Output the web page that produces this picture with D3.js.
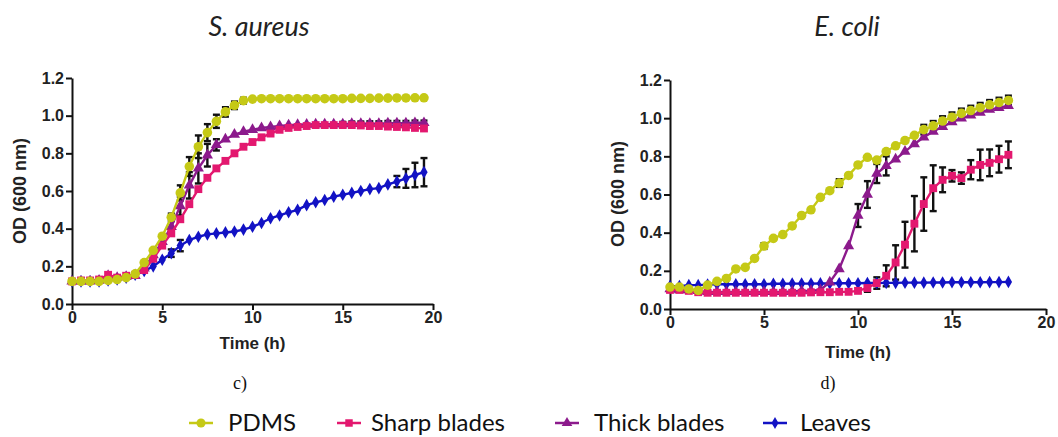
<!DOCTYPE html>
<html><head><meta charset="utf-8">
<script src="https://cdn.jsdelivr.net/npm/d3@7"></script>
<style>body{margin:0;background:#fff}</style>
</head><body><svg id="c" width="1058" height="437"></svg>
<script>
// ---------- DATA ----------
const saTime = [0,0.5,1,1.5,2,2.5,3,3.5,4,4.5,5,5.5,6,6.5,7,7.5,8,8.5,9,9.5,10,10.5,11,11.5,12,12.5,13,13.5,14,14.5,15,15.5,16,16.5,17,17.5,18,18.5,19,19.5];
const saPDMS = [0.12,0.12,0.12,0.12,0.125,0.13,0.14,0.16,0.22,0.285,0.36,0.46,0.59,0.73,0.835,0.91,0.97,1.02,1.055,1.08,1.088,1.09,1.09,1.09,1.09,1.09,1.09,1.09,1.09,1.09,1.09,1.092,1.092,1.092,1.093,1.093,1.094,1.094,1.095,1.095];
const saPDMSErr = [0,0,0,0,0,0,0,0,0,0,0,0.02,0.04,0.05,0.06,0.045,0.035,0.025,0.02,0.015,0,0,0,0,0,0,0,0,0,0,0,0,0,0,0,0,0,0,0,0];
const saSharp = [0.12,0.125,0.125,0.13,0.155,0.14,0.15,0.155,0.18,0.24,0.31,0.375,0.45,0.53,0.61,0.67,0.72,0.76,0.80,0.835,0.86,0.885,0.905,0.925,0.935,0.94,0.945,0.95,0.95,0.95,0.95,0.95,0.948,0.945,0.945,0.942,0.94,0.938,0.935,0.932];
const saSharpErr = [0,0,0,0,0,0,0,0,0,0,0,0,0,0,0,0,0,0,0,0,0,0,0,0,0,0,0,0,0,0,0,0,0,0,0,0,0,0,0,0];
const saThick = [0.12,0.12,0.12,0.125,0.15,0.14,0.145,0.15,0.19,0.26,0.33,0.41,0.52,0.63,0.72,0.79,0.845,0.875,0.90,0.915,0.925,0.935,0.94,0.945,0.95,0.952,0.953,0.955,0.955,0.955,0.955,0.957,0.957,0.958,0.958,0.96,0.96,0.96,0.962,0.962];
const saThickErr = [0,0,0,0,0,0,0,0,0,0,0,0,0.05,0.07,0.08,0.06,0.03,0,0,0,0,0,0,0,0,0,0,0,0,0,0.012,0.012,0.012,0.012,0.012,0.012,0.012,0.012,0.012,0.012];
const saLeaves = [0.12,0.12,0.12,0.12,0.125,0.13,0.14,0.155,0.175,0.20,0.235,0.27,0.31,0.34,0.357,0.37,0.375,0.38,0.385,0.395,0.41,0.43,0.455,0.47,0.487,0.50,0.525,0.54,0.552,0.57,0.58,0.59,0.60,0.61,0.615,0.635,0.65,0.667,0.685,0.70];
const saLeavesErr = [0,0,0,0,0,0,0,0,0,0,0,0.02,0.03,0,0,0,0,0,0,0,0,0,0,0,0,0,0,0,0,0,0,0,0,0,0,0,0.03,0.05,0.065,0.075];

const ecTime = [0,0.5,1,1.5,2,2.5,3,3.5,4,4.5,5,5.5,6,6.5,7,7.5,8,8.5,9,9.5,10,10.5,11,11.5,12,12.5,13,13.5,14,14.5,15,15.5,16,16.5,17,17.5,18];
const ecPDMS = [0.115,0.115,0.105,0.097,0.125,0.145,0.16,0.21,0.218,0.265,0.33,0.37,0.39,0.435,0.49,0.52,0.585,0.62,0.66,0.70,0.755,0.795,0.78,0.825,0.855,0.883,0.91,0.94,0.96,0.985,1.005,1.025,1.04,1.055,1.07,1.082,1.093];
const ecPDMSErr = [0,0,0,0,0,0,0,0,0,0,0.015,0,0,0,0,0,0,0,0.02,0,0,0,0,0,0,0,0,0.025,0.025,0.025,0.025,0.025,0.025,0.025,0.025,0.025,0.025];
const ecSharp = [0.1,0.1,0.095,0.088,0.085,0.085,0.085,0.085,0.085,0.085,0.085,0.085,0.085,0.085,0.085,0.087,0.088,0.088,0.09,0.09,0.095,0.11,0.136,0.174,0.244,0.337,0.447,0.55,0.633,0.677,0.698,0.686,0.73,0.755,0.766,0.785,0.808];
const ecSharpErr = [0,0,0,0,0,0,0,0,0,0,0,0,0,0,0,0,0,0,0,0,0,0.02,0.03,0.055,0.09,0.12,0.145,0.14,0.12,0.065,0.03,0.03,0.05,0.08,0.07,0.07,0.07];
const ecThick = [0.105,0.1,0.1,0.095,0.09,0.09,0.09,0.09,0.09,0.09,0.09,0.09,0.09,0.092,0.094,0.096,0.1,0.14,0.21,0.33,0.49,0.60,0.71,0.75,0.785,0.825,0.865,0.90,0.93,0.955,0.98,1.0,1.015,1.03,1.045,1.055,1.065];
const ecThickErr = [0,0,0,0,0,0,0,0,0,0,0,0,0,0,0,0,0,0,0,0,0.06,0.07,0.05,0.05,0,0,0,0,0,0,0,0,0,0,0,0,0];
const ecLeaves = [0.12,0.12,0.125,0.125,0.128,0.13,0.13,0.13,0.13,0.13,0.13,0.132,0.132,0.133,0.133,0.133,0.134,0.134,0.135,0.135,0.135,0.136,0.136,0.137,0.137,0.138,0.138,0.138,0.139,0.139,0.14,0.14,0.14,0.14,0.141,0.141,0.142];
const ecLeavesErr = [0,0,0,0,0,0,0,0,0,0,0,0,0,0,0,0,0,0,0,0,0,0,0,0,0,0,0,0,0,0,0,0,0,0,0,0,0];

const seriesNames = ["PDMS","Sharp blades","Thick blades","Leaves"];
const seriesColors = ["#c5c916","#e3186f","#8c1a8c","#1212c4"];
const seriesSymbols = [d3.symbolCircle, d3.symbolSquare, d3.symbolTriangle, d3.symbolDiamond];
const seriesSizes = [72, 62, 54, 46];
const yTicks = [0,0.2,0.4,0.6,0.8,1.0,1.2];
const xTicks = [0,5,10,15,20];
const titles = ["S. aureus","E. coli"];
const panelLabels = ["c)","d)"];

// ---------- DRAW ----------
const svg = d3.select('#c');
svg.append('rect').attr('width',1058).attr('height',437).attr('fill','#fff');
const SANS = 'Liberation Sans, Arial, sans-serif';

function panel(cfg){
  const x = d3.scaleLinear().domain([0,20]).range([cfg.x0,cfg.x1]);
  const y = d3.scaleLinear().domain([0,1.2]).range([cfg.y0,cfg.y1]);
  const g = svg.append('g');
  const ax = g.append('g').attr('transform',`translate(0,${cfg.y0})`)
    .call(d3.axisBottom(x).tickValues(xTicks).tickSize(6).tickSizeOuter(0).tickPadding(2));
  const ay = g.append('g').attr('transform',`translate(${cfg.x0},0)`)
    .call(d3.axisLeft(y).tickValues(yTicks).tickFormat(d3.format('.1f')).tickSize(6).tickSizeOuter(0).tickPadding(2));
  [ax,ay].forEach(a=>{
    a.select('.domain').attr('stroke','#111').attr('stroke-width',2);
    a.selectAll('.tick line').attr('stroke','#111').attr('stroke-width',2);
    a.selectAll('.tick text').attr('fill','#222').attr('font-family',SANS)
      .attr('font-weight','bold').attr('font-size',16);
  });
  g.append('text').attr('x',(cfg.x0+cfg.x1)/2).attr('y',cfg.xlabY).attr('text-anchor','middle')
    .attr('font-family',SANS).attr('font-weight','bold').attr('font-size',17)
    .attr('fill','#222').text('Time (h)');
  g.append('text').attr('transform',`translate(${cfg.ylabX},${cfg.ylabY}) rotate(-90)`).attr('text-anchor','middle')
    .attr('font-family',SANS).attr('font-weight','bold').attr('font-size',18)
    .attr('fill','#222').text('OD (600 nm)');
  g.append('text').attr('x',cfg.titleX).attr('y',36).attr('text-anchor','middle')
    .attr('font-family','Lato, sans-serif').attr('font-style','italic').attr('font-size',27)
    .attr('fill','#222').text(cfg.title);
  g.append('text').attr('x',cfg.plX).attr('y',389).attr('text-anchor','middle')
    .attr('font-family','Liberation Serif, Times New Roman, serif').attr('font-size',18)
    .attr('fill','#111').text(cfg.pl);

  const order = [3,2,1,0];
  order.forEach(i=>{
    const vals = cfg.data[i], errs = cfg.errs[i];
    const eb = g.append('g').attr('stroke','#111').attr('stroke-width',2.4).attr('fill','none');
    cfg.time.forEach((t,k)=>{
      if(!errs[k]) return;
      const cx = x(t), yt = y(vals[k]+errs[k]), yb = y(vals[k]-errs[k]);
      eb.append('line').attr('x1',cx).attr('x2',cx).attr('y1',yt).attr('y2',yb);
      eb.append('line').attr('x1',cx-3.5).attr('x2',cx+3.5).attr('y1',yt).attr('y2',yt);
      eb.append('line').attr('x1',cx-3.5).attr('x2',cx+3.5).attr('y1',yb).attr('y2',yb);
    });
  });
  order.forEach(i=>{
    const vals = cfg.data[i];
    const pts = cfg.time.map((t,k)=>[t,vals[k]]);
    g.append('path').datum(pts).attr('fill','none').attr('stroke',seriesColors[i]).attr('stroke-width',2.4)
      .attr('d',d3.line().x(d=>x(d[0])).y(d=>y(d[1])));
    g.append('g').selectAll('path').data(pts).join('path')
      .attr('transform',d=>`translate(${x(d[0])},${y(d[1])})`)
      .attr('d',d3.symbol().type(seriesSymbols[i]).size(seriesSizes[i]))
      .attr('fill',seriesColors[i]);
  });
}

panel({x0:72,x1:433,y0:304,y1:78,time:saTime,
  data:[saPDMS,saSharp,saThick,saLeaves], errs:[saPDMSErr,saSharpErr,saThickErr,saLeavesErr],
  xlabY:349,ylabX:26,ylabY:191,title:titles[0],titleX:259,pl:panelLabels[0],plX:240});
panel({x0:670,x1:1046,y0:309,y1:80,time:ecTime,
  data:[ecPDMS,ecSharp,ecThick,ecLeaves], errs:[ecPDMSErr,ecSharpErr,ecThickErr,ecLeavesErr],
  xlabY:358,ylabX:624,ylabY:194,title:titles[1],titleX:847,pl:panelLabels[1],plX:828});

// legend
const legX = [201,349,567,775];
const legTextX = [228,371,594,800];
const leg = svg.append('g');
seriesNames.forEach((n,i)=>{
  leg.append('line').attr('x1',legX[i]-12).attr('x2',legX[i]+12).attr('y1',423).attr('y2',423)
    .attr('stroke',seriesColors[i]).attr('stroke-width',2.5);
  leg.append('path').attr('transform',`translate(${legX[i]},423)`)
    .attr('d',d3.symbol().type(seriesSymbols[i]).size(seriesSizes[i]*0.9)).attr('fill',seriesColors[i]);
  leg.append('text').attr('x',legTextX[i]).attr('y',431).attr('font-family','Lato, sans-serif')
    .attr('font-size',24).attr('fill','#111').text(n);
});
</script></body></html>
